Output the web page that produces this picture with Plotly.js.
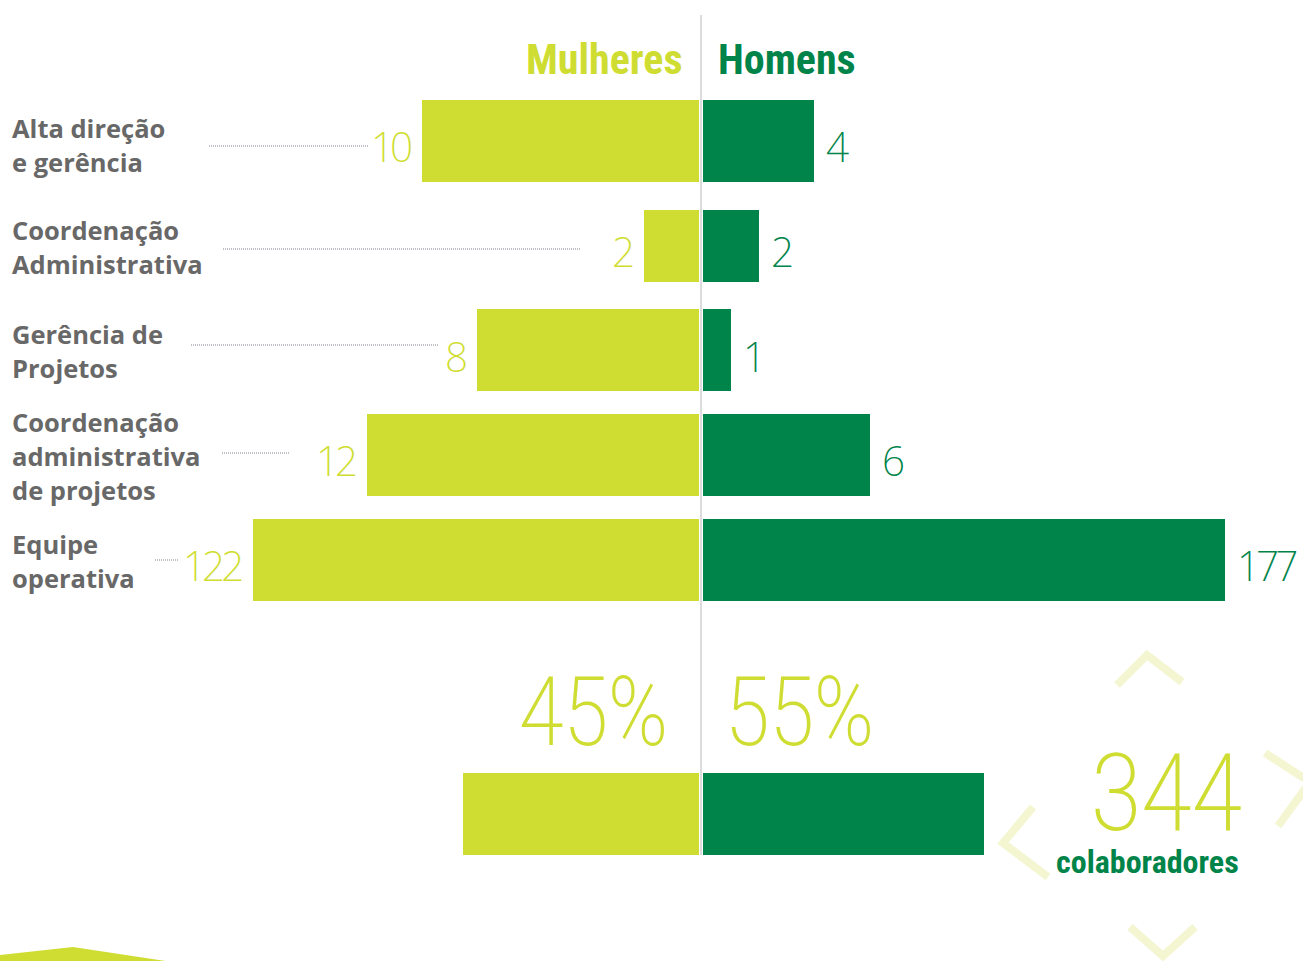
<!DOCTYPE html>
<html><head><meta charset="utf-8"><script src="https://cdn.plot.ly/plotly-3.0.1.min.js"></script>
<style>
body{margin:0;background:#fff}
text[style*="NumSmall"]{letter-spacing:-4px;}
text[style*="NumBig"]{letter-spacing:-2px;}
</style></head>
<body><div id="g" style="width:1303px;height:961px"></div>
<script>
// ---- data ----
const categories = ["Alta direção<br>e gerência", "Coordenação<br>Administrativa", "Gerência de<br>Projetos", "Coordenação<br>administrativa<br>de projetos", "Equipe<br>operativa"];
const mulheres = [10, 2, 8, 12, 122];
const homens = [4, 2, 1, 6, 177];
const seriesNames = ["Mulheres", "Homens"];
const totalLabel = "colaboradores";

// ---- derived ----
const totM = mulheres.reduce((a, b) => a + b, 0);
const totH = homens.reduce((a, b) => a + b, 0);
const total = totM + totH;
const pctM = Math.round(totM / total * 100);
const pctH = Math.round(totH / total * 100);

// ---- styling ----
const W = 1303, H = 961;
const LIGHT = '#CFDD32', DARK = '#00844A', GRAY = '#686868';
const X = p => p / W, Y = p => 1 - p / H;
const NUMFONT = '"Noto Sans Display", NumSmall, sans-serif';
const BIGFONT = '"Roboto Condensed", NumBig, sans-serif';
const HEADFONT = '"Roboto Condensed", Roboto, sans-serif';
const small = [0, 1, 2, 3], big = [4];
const widths = [0.783, 0.688, 0.783, 0.783];

const traces = [
  {type: 'bar', orientation: 'h', name: seriesNames[0], y: small.map(i => categories[i]), x: small.map(i => mulheres[i]),
   xaxis: 'x', yaxis: 'y', width: widths, marker: {color: LIGHT, line: {width: 0}}},
  {type: 'bar', orientation: 'h', name: seriesNames[1], y: small.map(i => categories[i]), x: small.map(i => homens[i]),
   xaxis: 'x2', yaxis: 'y', width: widths, marker: {color: DARK, line: {width: 0}}},
  {type: 'bar', orientation: 'h', name: seriesNames[0], y: big.map(i => categories[i]), x: big.map(i => mulheres[i]),
   xaxis: 'x3', yaxis: 'y', width: 0.783, marker: {color: LIGHT, line: {width: 0}}},
  {type: 'bar', orientation: 'h', name: seriesNames[1], y: big.map(i => categories[i]), x: big.map(i => homens[i]),
   xaxis: 'x4', yaxis: 'y', width: 0.783, marker: {color: DARK, line: {width: 0}}},
  {type: 'bar', orientation: 'h', name: seriesNames[0], y: ['Total'], x: [pctM],
   xaxis: 'x5', yaxis: 'y2', width: 1, marker: {color: LIGHT, line: {width: 0}}},
  {type: 'bar', orientation: 'h', name: seriesNames[1], y: ['Total'], x: [pctH],
   xaxis: 'x6', yaxis: 'y2', width: 1, marker: {color: DARK, line: {width: 0}}}
];

const hid = {visible: false, fixedrange: true, showgrid: false, zeroline: false};
const domL = [0, X(699)], domR = [X(703), 1];

const annotations = [];
// value labels
function valLabel(val, cat, xref, side) {
  annotations.push({xref: xref, yref: 'y', x: val, y: cat, text: String(val), showarrow: false,
    xanchor: side === 'L' ? 'right' : 'left', yanchor: 'middle', xshift: side === 'L' ? -9 : 10, yshift: -5,
    font: {family: NUMFONT, size: 43, weight: 250, color: side === 'L' ? LIGHT : DARK}});
}
small.forEach(i => { valLabel(mulheres[i], categories[i], 'x', 'L'); valLabel(homens[i], categories[i], 'x2', 'R'); });
big.forEach(i => { valLabel(mulheres[i], categories[i], 'x3', 'L'); valLabel(homens[i], categories[i], 'x4', 'R'); });

// category labels (one annotation per line, left aligned)
categories.forEach((c, i) => {
  const lines = c.split('<br>');
  lines.forEach((ln, k) => {
    annotations.push({xref: 'paper', yref: 'y', x: X(10), y: c, text: ln, showarrow: false,
      xanchor: 'left', yanchor: 'middle', align: 'left',
      yshift: -((k - (lines.length - 1) / 2) * 34) - 1 - (i === 0 ? 3 : 0),
      font: {family: 'Open Sans, sans-serif', size: 25.5, weight: 700, color: GRAY}});
  });
});

// headings
annotations.push({xref: 'paper', yref: 'paper', x: X(685), y: Y(60), text: seriesNames[0], showarrow: false, xanchor: 'right', yanchor: 'middle',
  font: {family: HEADFONT, size: 42, weight: 700, color: LIGHT}});
annotations.push({xref: 'paper', yref: 'paper', x: X(716), y: Y(60), text: seriesNames[1], showarrow: false, xanchor: 'left', yanchor: 'middle',
  font: {family: HEADFONT, size: 42, weight: 700, color: DARK}});

// percentages
annotations.push({xref: 'paper', yref: 'paper', x: X(669), y: Y(712), text: pctM + '%', showarrow: false, xanchor: 'right', yanchor: 'middle',
  font: {family: BIGFONT, size: 96, weight: 200, color: LIGHT}});
annotations.push({xref: 'paper', yref: 'paper', x: X(722), y: Y(712), text: pctH + '%', showarrow: false, xanchor: 'left', yanchor: 'middle',
  font: {family: BIGFONT, size: 96, weight: 200, color: LIGHT}});
// total
annotations.push({xref: 'paper', yref: 'paper', x: X(1165), y: Y(793), text: String(total), showarrow: false, xanchor: 'center', yanchor: 'middle',
  font: {family: BIGFONT, size: 108, weight: 200, color: LIGHT}});
annotations.push({xref: 'paper', yref: 'paper', x: X(1147), y: Y(862), text: totalLabel, showarrow: false, xanchor: 'center', yanchor: 'middle',
  font: {family: HEADFONT, size: 32, weight: 700, color: DARK}});

// shapes
const shapes = [];
shapes.push({type: 'line', xref: 'paper', yref: 'paper', x0: X(701), x1: X(701), y0: Y(15), y1: Y(855), line: {color: '#dcdcdc', width: 2}, layer: 'below'});
const leaders = [[209, 369, 146], [223, 581, 249], [191, 438, 345], [222, 290, 453], [155, 178, 560]];
leaders.forEach(l => shapes.push({type: 'line', xref: 'paper', yref: 'paper', x0: X(l[0]), x1: X(l[1]), y0: Y(l[2]), y1: Y(l[2]),
  line: {color: '#c0c0c6', width: 2, dash: '1px,1px'}}));
function path(pts, close) {
  return pts.map((p, i) => (i ? 'L' : 'M') + X(p[0]).toFixed(5) + ',' + Y(p[1]).toFixed(5)).join(' ') + (close ? ' Z' : '');
}
const chev = [
  [[1117, 685], [1147, 655], [1182, 682]],
  [[1265, 753], [1310, 782], [1278, 826]],
  [[1033, 807], [1003, 843], [1048, 877]],
  [[1130, 927], [1163, 956], [1195, 927]]
];
chev.forEach(c => shapes.push({type: 'path', xref: 'paper', yref: 'paper', path: path(c, false), line: {color: '#F4F6D2', width: 8}, layer: 'below'}));
shapes.push({type: 'path', xref: 'paper', yref: 'paper', path: path([[0, 955], [73, 947], [172, 962], [0, 962]], true),
  fillcolor: LIGHT, line: {width: 0}, layer: 'below'});

const layout = {
  width: W, height: H, margin: {l: 0, r: 0, t: 0, b: 0}, showlegend: false,
  paper_bgcolor: '#fff', plot_bgcolor: 'rgba(0,0,0,0)', bargap: 0,
  yaxis: Object.assign({}, hid, {type: 'category', categoryarray: categories, categoryorder: 'array', range: [4.5, -0.5], domain: [Y(612), Y(88.5)]}),
  yaxis2: Object.assign({}, hid, {type: 'category', range: [-0.5, 0.5], domain: [Y(855), Y(773)]}),
  xaxis: Object.assign({}, hid, {domain: domL, range: [25.23, 0], anchor: 'y'}),
  xaxis2: Object.assign({}, hid, {domain: domR, range: [0, 21.55], anchor: 'y'}),
  xaxis3: Object.assign({}, hid, {domain: domL, range: [191.2, 0], anchor: 'y', overlaying: 'x'}),
  xaxis4: Object.assign({}, hid, {domain: domR, range: [0, 203.4], anchor: 'y', overlaying: 'x2'}),
  xaxis5: Object.assign({}, hid, {domain: domL, range: [133.3, 0], anchor: 'y2'}),
  xaxis6: Object.assign({}, hid, {domain: domR, range: [0, 117.4], anchor: 'y2'}),
  annotations: annotations, shapes: shapes
};
Plotly.newPlot('g', traces, layout, {displayModeBar: false, staticPlot: true});
</script></body></html>
